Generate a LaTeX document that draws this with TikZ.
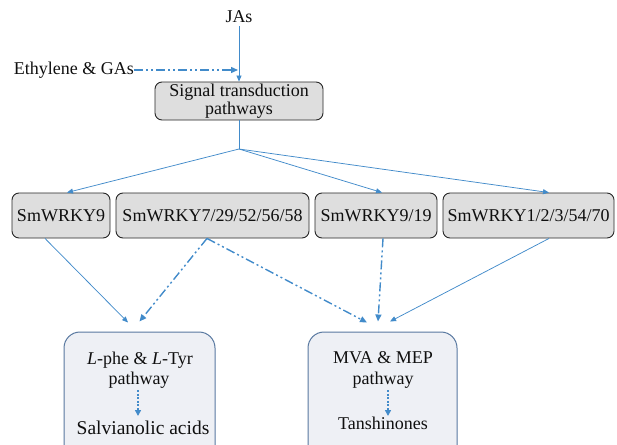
\documentclass[tikz,border=0pt]{standalone}
\usepackage{fontspec}
\setmainfont{Liberation Serif}
\usetikzlibrary{arrows.meta,calc}
\definecolor{lblue}{RGB}{66,139,202}
\definecolor{boxgray}{RGB}{222,222,222}
\definecolor{boxlight}{RGB}{238,240,245}
\definecolor{boxedge}{RGB}{88,120,160}
\definecolor{ink}{RGB}{15,15,15}
\begin{document}
\begin{tikzpicture}[x=1pt,y=-1pt,
  txt/.style={font=\fontsize{18}{18.5}\selectfont, inner sep=0pt, text=ink, align=center},
  topbox/.style={txt, draw=black!85, fill=boxgray, rounded corners=7pt, line width=0.9pt},
  botbox/.style={draw=boxedge, fill=boxlight, rounded corners=16pt, line width=1pt},
  thin/.style={draw=lblue, line width=0.75pt, -{Triangle[length=6pt,width=5pt]}},
  dd/.style={draw=lblue, line width=1.4pt, dash pattern=on 9pt off 3pt on 2pt off 3pt on 2pt off 3pt, -{Triangle[length=7pt,width=6pt]}},
  dotarrow/.style={draw=lblue, line width=2pt, dash pattern=on 2pt off 1.6pt, -{Triangle[length=6pt,width=6pt]}}
]
\useasboundingbox (0,0) rectangle (617,444);
\clip (0,0) rectangle (617,444);

% top
\node[txt] (jas) at (239,17) {JAs};
\node[txt, anchor=east] (eth) at (134,70) {Ethylene \& GAs};
\node[topbox, minimum width=168pt, minimum height=38pt] (sig) at (239,101) {Signal transduction\\pathways};
\coordinate (ethtip) at (238,70);
\coordinate (branch) at (239,149);

\draw[thin] ([yshift=-3pt]jas.south) -- (sig.north);
\draw[dd] (eth.east) -- (ethtip);
\draw[draw=lblue, line width=0.75pt] (sig.south) -- (branch);

% WRKY row
\node[topbox, minimum width=98pt, minimum height=45pt] (w1) at (61,215.5) {SmWRKY9};
\node[topbox, minimum width=193pt, minimum height=45pt] (w2) at (212.5,215.5) {SmWRKY7/29/52/56/58};
\node[topbox, minimum width=122pt, minimum height=45pt] (w3) at (376,215.5) {SmWRKY9/19};
\node[topbox, minimum width=171pt, minimum height=45pt] (w4) at (528.5,215.5) {SmWRKY1/2/3/54/70};

\draw[thin] (branch) -- ([xshift=6pt]w1.north);
\draw[thin] (branch) -- ([xshift=6pt]w3.north);
\draw[thin] (branch) -- ([xshift=20.5pt]w4.north);

% bottom boxes
\node[botbox, minimum width=151pt, minimum height=138pt] (b1) at (139.5,401) {};
\node[botbox, minimum width=149pt, minimum height=138pt] (b2) at (382.5,401) {};

\node[txt] (b1a) at (140,360) {\textit{L}-phe \& \textit{L}-Tyr};
\node[txt] (b1b) at (139,380) {pathway};
\node[txt, font=\fontsize{19.5}{20}\selectfont] (b1c) at (143,428) {Salvianolic acids};
\coordinate (b1from) at (138,390);
\coordinate (b1to) at (138,416);
\draw[dotarrow] (b1from) -- (b1to);

\node[txt] (b2a) at (383,358) {MVA \& MEP};
\node[txt] (b2b) at (383,380) {pathway};
\node[txt] (b2c) at (383,423) {Tanshinones};
\coordinate (b2from) at (388,390);
\coordinate (b2to) at (388,416);
\draw[dotarrow] (b2from) -- (b2to);

% WRKY -> pathways
\draw[thin] ([xshift=-16pt]w1.south) -- ([xshift=-11.5pt,yshift=9pt]b1.north);
\draw[dd] ([xshift=-5.5pt]w2.south) -- ([xshift=0pt,yshift=10pt]b1.north);
\draw[dd] ([xshift=-5.5pt]w2.south) -- ([xshift=-15.5pt,yshift=9pt]b2.north);
\draw[dd] ([xshift=7pt]w3.south) -- ([xshift=-4.5pt,yshift=10pt]b2.north);
\draw[thin] ([xshift=20.5pt]w4.south) -- ([xshift=7.5pt,yshift=10pt]b2.north);
\end{tikzpicture}
\end{document}
